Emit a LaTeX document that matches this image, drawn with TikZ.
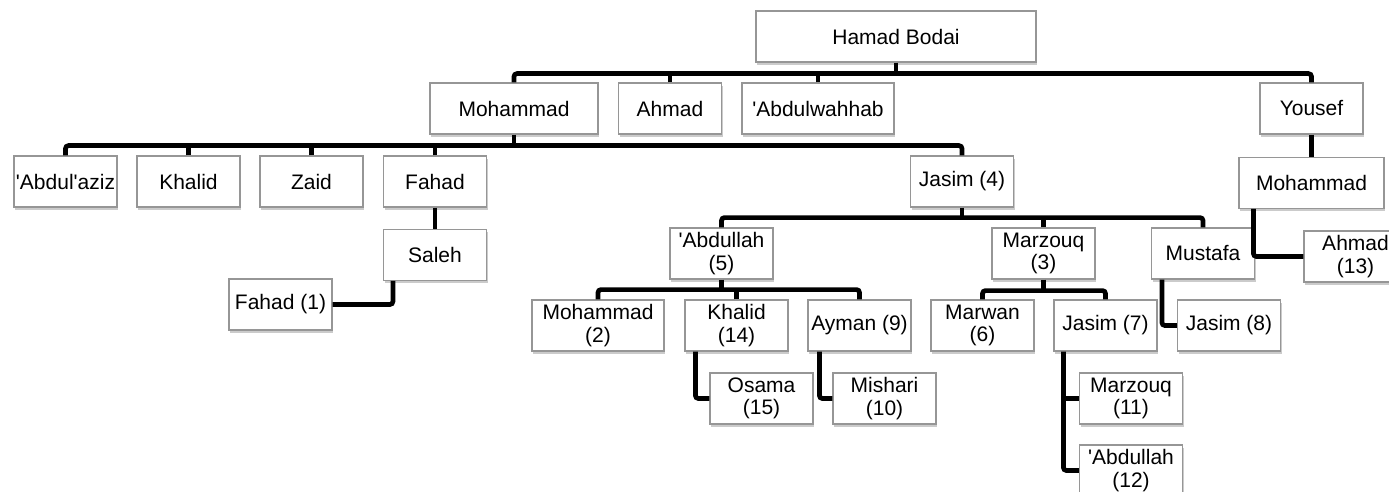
\documentclass[tikz,border=0pt]{standalone}
\usepackage{fontspec}
\newfontfamily\boxfont{Liberation Sans}
\usepackage{tikz}
\usetikzlibrary{positioning,shadows}
\definecolor{boxgray}{RGB}{150,150,150}
\tikzstyle{element} = [rectangle, draw=boxgray, line width=1.2pt, fill=white, align=center, text centered,
  minimum width=103pt, minimum height=51pt, inner sep=0pt,
  font={\boxfont\fontsize{21}{22.3}\selectfont},
  drop shadow={shadow xshift=1pt, shadow yshift=-3pt, fill=black!45, opacity=0.45}]
\tikzstyle{link} = [line width=4.7pt, rounded corners=3pt, draw=black]

\begin{document}
\begin{tikzpicture}[x=1pt, y=-1pt]
        \useasboundingbox (0,0) rectangle (1389,492);
        % Generation 1 ---------------------------------------------------------------------------
        \node[element, minimum width=280pt] at (896,36.5)(hamad){Hamad Bodai};
        \node[element, minimum width=168pt] at (514,108.5)(mohammad){Mohammad};
        \node[element] at (670,108.5)(ahmad){Ahmad};
        \node[element, minimum width=152pt] at (818,108.5)(abdulwahhab){'Abdulwahhab};
        \node[element] at (1311.5,108.5)(yousef){Yousef};
        % Generation 2 ---------------------------------------------------------------------------
        \node[element] at (65.5,181.5)(abdulaziz){'Abdul'aziz};
        \node[element] at (188.5,181.5)(khalid){Khalid};
        \node[element] at (311.5,181.5)(zaid){Zaid};
        \node[element] at (435,181.5)(fahad){Fahad};
        \node[element] at (962,181.5)(jasim4){Jasim (4)};
        \node[element, minimum width=145pt, below=22pt of yousef](mohammad_y){Mohammad};
        % Generation 3 ---------------------------------------------------------------------------
        \node[element, below=21pt of fahad](saleh){Saleh};
        \node[element] at (721.5,253.5)(abdullah5){'Abdullah\\(5)};
        \node[element] at (1043.5,253.5)(marzouq3){Marzouq\\(3)};
        \node[element] at (1203,253.5)(mustafa){Mustafa};
        \node[element] at (1355.5,256.5)(ahmad13){Ahmad\\(13)};
        % Generation 4 ---------------------------------------------------------------------------
        \node[element] at (280.5,304.5)(fahad1){Fahad (1)};
        \node[element, minimum width=132pt] at (598,325.5)(mohammad2){Mohammad\\(2)};
        \node[element] at (736.5,325.5)(khalid14){Khalid\\(14)};
        \node[element] at (859.5,325.5)(ayman9){Ayman (9)};
        \node[element] at (982.5,325.5)(marwan6){Marwan\\(6)};
        \node[element] at (1105.5,325.5)(jasim7){Jasim (7)};
        \node[element] at (1229,325.5)(jasim8){Jasim (8)};
        % Generation 5 ---------------------------------------------------------------------------
        \node[element] at (761.5,398.5)(osama15){Osama\\(15)};
        \node[element] at (884.5,398.5)(mishari10){Mishari\\(10)};
        \node[element] at (1131,398.5)(marzouq11){Marzouq\\(11)};
        \node[element] at (1131,470.5)(abdullah12){'Abdullah\\(12)};
        % Links ----------------------------------------------------------------------------------
        \coordinate (bar_hamad) at ([yshift=-11pt]hamad.south);
        \draw[link] (hamad.south) -- (bar_hamad);
        \draw[link] (mohammad.north) |- (bar_hamad) -| (yousef.north);
        \draw[link] (ahmad.north) -- (ahmad.north |- bar_hamad);
        \draw[link] (abdulwahhab.north) -- (abdulwahhab.north |- bar_hamad);
        % Mohammad's sons
        \coordinate (bar_mohammad) at ([yshift=-11pt]mohammad.south);
        \draw[link] (mohammad.south) -- (bar_mohammad);
        \draw[link] (abdulaziz.north) |- (bar_mohammad) -| (jasim4.north);
        \draw[link] (khalid.north) -- (khalid.north |- bar_mohammad);
        \draw[link] (zaid.north) -- (zaid.north |- bar_mohammad);
        \draw[link] (fahad.north) -- (fahad.north |- bar_mohammad);
        \draw[link] (fahad.south) -- (saleh.north);
        \draw[link] ([xshift=10pt]saleh.south west) |- (fahad1.east);
        % Jasim's sons
        \coordinate (bar_jasim) at ([yshift=-10pt]jasim4.south);
        \draw[link] (jasim4.south) -- (bar_jasim);
        \draw[link] (abdullah5.north) |- (bar_jasim) -| (mustafa.north);
        \draw[link] (marzouq3.north) -- (marzouq3.north |- bar_jasim);
        \draw[link] ([xshift=11pt]mustafa.south west) |- (jasim8.west);
        % 'Abdullah's sons
        \coordinate (bar_abdullah) at ([yshift=-10pt]abdullah5.south);
        \draw[link] (abdullah5.south) -- (bar_abdullah);
        \draw[link] (mohammad2.north) |- (bar_abdullah) -| (ayman9.north);
        \draw[link] (khalid14.north) -- (khalid14.north |- bar_abdullah);
        \draw[link] ([xshift=11pt]khalid14.south west) |- (osama15.west);
        \draw[link] ([xshift=12pt]ayman9.south west) |- (mishari10.west);
        % Marzouq's sons
        \coordinate (bar_marzouq) at ([yshift=-11pt]marzouq3.south);
        \draw[link] (marzouq3.south) -- (bar_marzouq);
        \draw[link] (marwan6.north) |- (bar_marzouq) -| (jasim7.north);
        \coordinate (drop_jasim7) at ([xshift=10pt]jasim7.south west);
        \draw[link] (drop_jasim7) |- (abdullah12.west);
        \draw[link] (drop_jasim7 |- marzouq11.west) -- (marzouq11.west);
        % Yousef's line
        \draw[link] (yousef.south) -- (mohammad_y.north);
        \draw[link] ([xshift=15pt]mohammad_y.south west) |- (ahmad13.west);
    \end{tikzpicture}
\end{document}
